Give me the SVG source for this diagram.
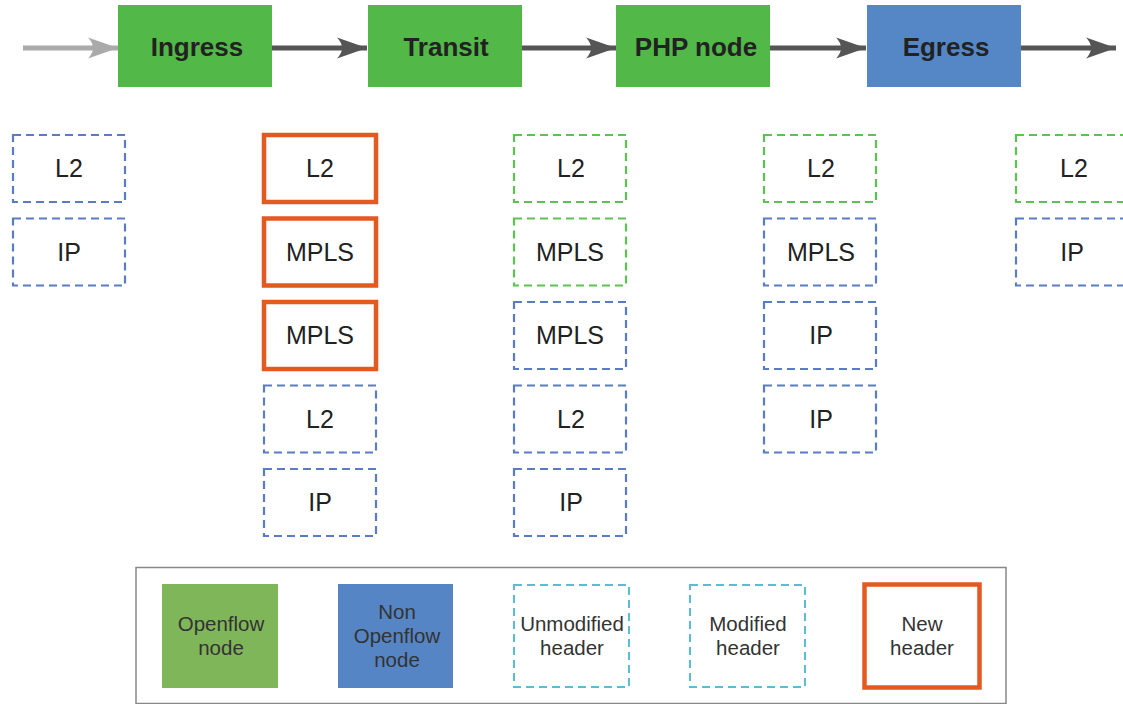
<svg xmlns="http://www.w3.org/2000/svg" width="1123" height="704" viewBox="0 0 1123 704">
<defs>
<style>
.node text{font-family:"Liberation Sans",Arial,sans-serif;font-weight:bold;font-size:26px;fill:#222;text-anchor:middle}
.hdr text{font-family:"Liberation Sans",Arial,sans-serif;font-size:25px;fill:#222;text-anchor:middle}
.leg text{font-family:"Liberation Sans",Arial,sans-serif;font-size:20.5px;fill:#333;text-anchor:middle}
.dB{fill:#fff;stroke:#5a7cc6;stroke-width:2.2;stroke-dasharray:8 5}
.dG{fill:#fff;stroke:#5cc352;stroke-width:2.2;stroke-dasharray:8 5}
.dC{fill:#fff;stroke:#5bbcd6;stroke-width:2;stroke-dasharray:8 5}
.nw{fill:#fff;stroke:#e35a20;stroke-width:4.5}
</style>
<marker id="ahD" markerUnits="userSpaceOnUse" markerWidth="32" markerHeight="24" refX="30" refY="12" orient="auto" viewBox="0 0 32 24">
<path d="M30,12 L0,1.5 Q10,12 0,22.5 Z" fill="#555"/>
</marker>
<marker id="ahG" markerUnits="userSpaceOnUse" markerWidth="32" markerHeight="24" refX="30" refY="12" orient="auto" viewBox="0 0 32 24">
<path d="M30,12 L0,1.5 Q10,12 0,22.5 Z" fill="#aaa"/>
</marker>
</defs>
<rect width="1123" height="704" fill="#fff"/>
<g id="connectors">
<line x1="23" y1="48" x2="118" y2="48" stroke="#aaa" stroke-width="5" marker-end="url(#ahG)"/>
<line x1="272" y1="48" x2="367" y2="48" stroke="#555" stroke-width="5" marker-end="url(#ahD)"/>
<line x1="522" y1="48" x2="616" y2="48" stroke="#555" stroke-width="5" marker-end="url(#ahD)"/>
<line x1="770" y1="48" x2="866" y2="48" stroke="#555" stroke-width="5" marker-end="url(#ahD)"/>
<line x1="1021" y1="48" x2="1116" y2="48" stroke="#555" stroke-width="5" marker-end="url(#ahD)"/>
</g>
<g id="ingress" class="node"><rect x="118" y="5" width="154" height="82" fill="#52b848"/><text x="197" y="56">Ingress</text></g>
<g id="transit" class="node"><rect x="368" y="5" width="154" height="82" fill="#52b848"/><text x="446" y="56">Transit</text></g>
<g id="php" class="node"><rect x="616" y="5" width="154" height="82" fill="#52b848"/><text x="696" y="56">PHP node</text></g>
<g id="egress" class="node"><rect x="867" y="5" width="154" height="82" fill="#5587c6"/><text x="946" y="56">Egress</text></g>

<g id="col1" class="hdr">
<rect class="dB" x="13" y="135" width="112" height="67"/><text x="69" y="177">L2</text>
<rect class="dB" x="13" y="218.5" width="112" height="67"/><text x="69" y="261">IP</text>
</g>
<g id="col2" class="hdr">
<rect class="nw" x="264" y="135" width="112" height="67"/><text x="320" y="177">L2</text>
<rect class="nw" x="264" y="218.5" width="112" height="67"/><text x="320" y="261">MPLS</text>
<rect class="nw" x="264" y="302" width="112" height="67"/><text x="320" y="344">MPLS</text>
<rect class="dB" x="264" y="385.5" width="112" height="67"/><text x="320" y="428">L2</text>
<rect class="dB" x="264" y="469" width="112" height="67"/><text x="320" y="511">IP</text>
</g>
<g id="col3" class="hdr">
<rect class="dG" x="514" y="135" width="112" height="67"/><text x="571" y="177">L2</text>
<rect class="dG" x="514" y="218.5" width="112" height="67"/><text x="570" y="261">MPLS</text>
<rect class="dB" x="514" y="302" width="112" height="67"/><text x="570" y="344">MPLS</text>
<rect class="dB" x="514" y="385.5" width="112" height="67"/><text x="571" y="428">L2</text>
<rect class="dB" x="514" y="469" width="112" height="67"/><text x="571" y="511">IP</text>
</g>
<g id="col4" class="hdr">
<rect class="dG" x="764" y="135" width="112" height="67"/><text x="821" y="177">L2</text>
<rect class="dB" x="764" y="218.5" width="112" height="67"/><text x="821" y="261">MPLS</text>
<rect class="dB" x="764" y="302" width="112" height="67"/><text x="821" y="344">IP</text>
<rect class="dB" x="764" y="385.5" width="112" height="67"/><text x="821" y="428">IP</text>
</g>
<g id="col5" class="hdr">
<rect class="dG" x="1016" y="135" width="112" height="67"/><text x="1074" y="177">L2</text>
<rect class="dB" x="1016" y="218.5" width="112" height="67"/><text x="1072" y="261">IP</text>
</g>

<g id="legend" class="leg">
<rect x="136" y="567.5" width="870" height="136" fill="#fff" stroke="#888" stroke-width="1.5"/>
<g id="leg-openflow"><rect x="162" y="584" width="116" height="104" fill="#80b65a"/><text x="221" y="631">Openflow</text><text x="221" y="655">node</text></g>
<g id="leg-nonopenflow"><rect x="338" y="584" width="115" height="104" fill="#5585c5"/><text x="397" y="619">Non</text><text x="397" y="643">Openflow</text><text x="397" y="667">node</text></g>
<g id="leg-unmod"><rect class="dC" x="514" y="585" width="115" height="102"/><text x="572" y="631">Unmodified</text><text x="572" y="655">header</text></g>
<g id="leg-mod"><rect class="dC" x="690" y="585" width="115" height="102"/><text x="748" y="631">Modified</text><text x="748" y="655">header</text></g>
<g id="leg-new"><rect class="nw" x="864.5" y="584.5" width="115" height="103" stroke-width="5"/><text x="922" y="631">New</text><text x="922" y="655">header</text></g>
</g>
</svg>
